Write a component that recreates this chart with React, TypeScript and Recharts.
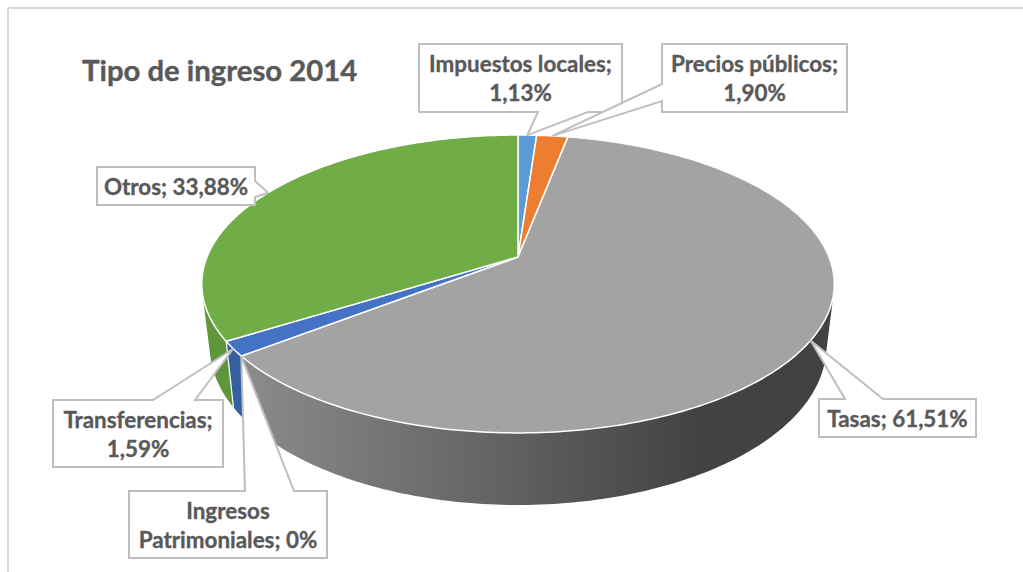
// App.tsx
import React from 'react'
import { PieChart, Pie } from 'recharts'

const NAMES = ['Impuestos locales', 'Precios públicos', 'Tasas', 'Ingresos Patrimoniales', 'Transferencias', 'Otros']
const VALUES = [1.13, 1.9, 61.51, 0, 1.59, 33.88]
const COLORS = ['#5B9BD5', '#ED7D31', '#A3A3A3', '#FFC000', '#4472C4', '#70AD47']
const SIDE_COLORS = ['#4F86B8', '#CC6C2A', 'url(#tasasSide)', '#DCA600', '#35609F', '#5F963C']
const LABEL_LINES = [
  ['Impuestos locales;', '1,13%'],
  ['Precios públicos;', '1,90%'],
  ['Tasas; 61,51%'],
  ['Ingresos', 'Patrimoniales; 0%'],
  ['Transferencias;', '1,59%'],
  ['Otros; 33,88%'],
]

const pieData = NAMES.map((name, i) => ({ name, value: VALUES[i], fill: COLORS[i], side: SIDE_COLORS[i] }))

// callout boxes: x, y, w, h + which edge the pointer leaves from and where
const CALLOUTS: any[] = [
  { x: 419, y: 44, w: 203, h: 68, edge: 'bottom', a: 538, b: 588 },
  { x: 662, y: 44, w: 185, h: 68, edge: 'left', a: 84, b: 101 },
  { x: 819, y: 399, w: 157, h: 38, edge: 'top', a: 845, b: 883 },
  { x: 129, y: 491, w: 198, h: 67, edge: 'top', a: 245, b: 294 },
  { x: 53, y: 400, w: 170, h: 67, edge: 'top', a: 153, b: 195 },
  { x: 97, y: 167, w: 158, h: 38, edge: 'right', a: 181, b: 197 },
]

// ── perspective projection of the pie disc ───────────
const CX = 518
const CY = 257
const RADIUS = 311
const PERSP = -0.181
const SQUASH = 0.4633
const BOTTOM_SCALE_X = 0.975
const BOTTOM_SCALE_Y = 1.065
const BOTTOM_SHIFT_Y = 43.9

type Pt = { x: number; y: number }

const project = (angle: number): Pt => {
  const rad = (angle * Math.PI) / 180
  const u = Math.cos(rad)
  const v = -Math.sin(rad)
  const w = 1 + PERSP * v
  return { x: CX + (RADIUS * u) / w, y: CY + (RADIUS * SQUASH * v) / w }
}

const toBottom = (p: Pt): Pt => ({
  x: CX + (p.x - CX) * BOTTOM_SCALE_X,
  y: BOTTOM_SHIFT_Y + p.y * BOTTOM_SCALE_Y,
})

const arcPoints = (start: number, end: number) => {
  const steps = Math.max(1, Math.ceil(Math.abs(end - start)))
  const pts: Pt[] = []
  for (let i = 0; i <= steps; i++) pts.push(project(start + ((end - start) * i) / steps))
  return pts
}

const pathOf = (pts: Pt[]) =>
  pts.map((p, i) => `${i ? 'L' : 'M'}${p.x.toFixed(2)},${p.y.toFixed(2)}`).join(' ') + ' Z'

const signedArea = (pts: Pt[]) =>
  pts.reduce((sum, p, i) => {
    const n = pts[(i + 1) % pts.length]
    return sum + p.x * n.y - n.x * p.y
  }, 0)

// wall of a slice as same-winding quads, so the fold at the silhouette stays filled
const wallPath = (top: Pt[]) => {
  const parts: string[] = []
  for (let i = 0; i < top.length - 1; i++) {
    const quad = [top[i], top[i + 1], toBottom(top[i + 1]), toBottom(top[i])]
    parts.push(pathOf(signedArea(quad) < 0 ? quad.reverse() : quad))
  }
  return parts.join(' ')
}

const TopSlice = (props: any) => {
  const { startAngle, endAngle, fill } = props
  if (startAngle === endAngle) return <g />
  return (
    <path
      d={pathOf([{ x: CX, y: CY }, ...arcPoints(startAngle, endAngle)])}
      fill={fill}
      stroke="#fff"
      strokeWidth={1.5}
      strokeLinejoin="round"
    />
  )
}

const SideSlice = (props: any) => {
  const { startAngle, endAngle, side } = props
  if (startAngle === endAngle) return <g />
  const top = arcPoints(startAngle, endAngle)
  const first = top[0]
  const firstB = toBottom(first)
  return (
    <g>
      <path d={wallPath(top)} fill={side} />
      <line x1={first.x} y1={first.y} x2={firstB.x} y2={firstB.y} stroke="#fff" strokeWidth={1.2} />
    </g>
  )
}

const calloutPath = (c: any, tip: Pt) => {
  const r = c.x + c.w
  const d = c.y + c.h
  const t = (x: number, y: number) => `${x},${y}`
  const tp = t(tip.x, tip.y)
  const pts = [t(c.x, c.y)]
  if (c.edge === 'top') pts.push(t(c.a, c.y), tp, t(c.b, c.y))
  pts.push(t(r, c.y))
  if (c.edge === 'right') pts.push(t(r, c.a), tp, t(r, c.b))
  pts.push(t(r, d))
  if (c.edge === 'bottom') pts.push(t(c.b, d), tp, t(c.a, d))
  pts.push(t(c.x, d))
  if (c.edge === 'left') pts.push(t(c.x, c.b), tp, t(c.x, c.a))
  return 'M' + pts.join(' L') + ' Z'
}

const renderCallout = (props: any) => {
  const { index, midAngle } = props
  const c = CALLOUTS[index]
  const lines = LABEL_LINES[index]
  const tip = project(midAngle)
  const midX = c.x + c.w / 2
  const midY = c.y + c.h / 2
  return (
    <g key={index}>
      <path d={calloutPath(c, tip)} fill="#fff" stroke="#BFBFBF" strokeWidth={2} strokeLinejoin="miter" />
      {lines.map((line, i) => (
        <text
          key={i}
          x={midX}
          y={midY + 8.5 + (i - (lines.length - 1) / 2) * 29}
          textAnchor="middle"
          fontFamily="Lato"
          fontWeight={700}
          fontSize={22.4}
          fill="#595959"
          stroke="#595959"
          strokeWidth={0.35}
        >
          {line}
        </text>
      ))}
    </g>
  )
}

export default function App() {
  return (
    <div style={{ position: 'absolute', left: 0, top: 0, width: 1023, height: 572, overflow: 'hidden', background: '#fff' }}>
      <PieChart width={1023} height={572} margin={{ top: 0, right: 0, bottom: 0, left: 0 }}>
        <defs>
          <linearGradient id="tasasSide" gradientUnits="userSpaceOnUse" x1="240" y1="0" x2="700" y2="0">
            <stop offset="0%" stopColor="#8C8C8C" />
            <stop offset="100%" stopColor="#424242" />
          </linearGradient>
        </defs>
        <line x1={8} y1={8} x2={1023} y2={8} stroke="#D9D9D9" strokeWidth={2} />
        <line x1={8} y1={8} x2={8} y2={572} stroke="#D9D9D9" strokeWidth={2} />
        <text
          x={82}
          y={81}
          fontFamily="Lato"
          fontWeight={700}
          fontSize={29.3}
          fill="#595959"
          stroke="#595959"
          strokeWidth={0.4}
        >
          Tipo de ingreso 2014
        </text>
        <Pie
          data={pieData}
          dataKey="value"
          nameKey="name"
          cx={CX}
          cy={CY}
          outerRadius={RADIUS}
          startAngle={90}
          endAngle={-270}
          shape={SideSlice}
          isAnimationActive={false}
          legendType="none"
        />
        <Pie
          data={pieData}
          dataKey="value"
          nameKey="name"
          cx={CX}
          cy={CY}
          outerRadius={RADIUS}
          startAngle={90}
          endAngle={-270}
          shape={TopSlice}
          label={renderCallout}
          labelLine={false}
          isAnimationActive={false}
          legendType="none"
        />
      </PieChart>
    </div>
  )
}
